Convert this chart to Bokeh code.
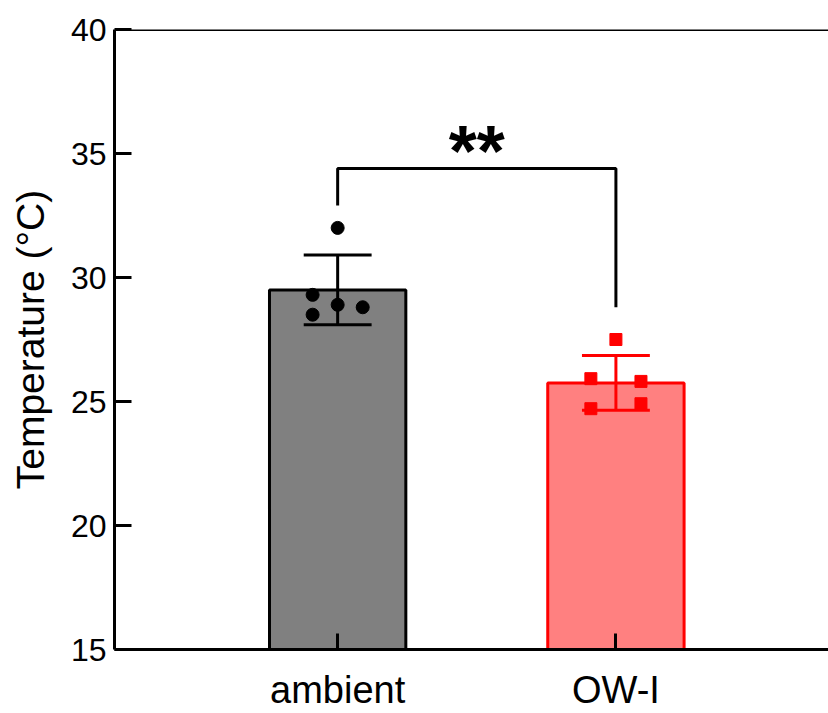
from bokeh.plotting import figure
from bokeh.models import Range1d, FixedTicker, Span
from bokeh.core.properties import value
from bokeh.embed import file_html
from bokeh.resources import INLINE

# ---- data ----
groups = ["ambient", "OW-I"]
group_x = [1, 2]
means = [29.5, 25.75]
sds = [1.41, 1.1]
bar_fill = ["#808080", "#ff8080"]
bar_line = ["#000000", "#ff0000"]

ambient_vals = [32.0, 29.3, 28.9, 28.8, 28.5]
ambient_dx = [0.0, -0.09, 0.0, 0.09, -0.09]
owi_vals = [27.5, 25.92, 25.81, 24.71, 24.91]
owi_dx = [0.0, -0.09, 0.09, -0.09, 0.09]

y_ticks = [15, 20, 25, 30, 35, 40]
bracket_y = 34.4
bracket_ends = [32.9, 28.8]
sig_label = "**"
sig_y = 35.1

FONT = "Liberation Sans"
CAP = 0.122

p = figure(width=828, height=713, output_backend="svg", toolbar_location=None,
           x_range=Range1d(0.198, 2.764), y_range=Range1d(15, 40),
           min_border_left=114, min_border_right=0, min_border_top=29, min_border_bottom=64)
p.background_fill_color = "white"
p.border_fill_color = "white"
p.outline_line_color = None
p.grid.grid_line_color = None

# bars
p.vbar(x=group_x, top=means, bottom=15, width=0.49, fill_color=bar_fill, line_color=bar_line,
       line_width=3)

# error bars (drawn over the bars, under the points)
upper = [m + s for m, s in zip(means, sds)]
lower = [m - s for m, s in zip(means, sds)]
p.segment(x0=group_x, y0=lower, x1=group_x, y1=upper, line_color=bar_line, line_width=3)
p.segment(x0=[x - CAP for x in group_x], y0=upper, x1=[x + CAP for x in group_x], y1=upper,
          line_color=bar_line, line_width=3)
p.segment(x0=[x - CAP for x in group_x], y0=lower, x1=[x + CAP for x in group_x], y1=lower,
          line_color=bar_line, line_width=3)

# points
p.scatter([group_x[0] + d for d in ambient_dx], ambient_vals, marker="circle", size=13,
          fill_color="black", line_color="black")
p.scatter([group_x[1] + d for d in owi_dx], owi_vals, marker="square", size=12,
          fill_color="#ff0000", line_color="#ff0000")

# significance bracket
p.line([group_x[0], group_x[0], group_x[1], group_x[1]],
       [bracket_ends[0], bracket_y, bracket_y, bracket_ends[1]],
       line_color="black", line_width=3)
p.text([sum(group_x) / 2], [sig_y], text=[sig_label], text_font=value(FONT),
       text_font_style="bold", text_font_size="72px", text_align="center",
       text_baseline="middle", text_color="black")

# top border line
p.add_layout(Span(location=40, dimension="width", line_color="black", line_width=3))

# axes
yax = p.yaxis[0]
yax.ticker = FixedTicker(ticks=y_ticks)
yax.axis_label = "Temperature (°C)"
yax.axis_label_text_font = FONT
yax.axis_label_text_font_style = "normal"
yax.axis_label_text_font_size = "39px"
yax.axis_label_text_color = "black"
yax.axis_label_standoff = 16
yax.major_label_text_font = FONT
yax.major_label_text_font_size = "32px"
yax.major_label_text_color = "black"
yax.major_label_standoff = 8
yax.major_tick_in = 17
yax.major_tick_out = 0
yax.minor_tick_line_color = None
yax.axis_line_width = 3
yax.major_tick_line_width = 3

xax = p.xaxis[0]
xax.ticker = FixedTicker(ticks=group_x)
xax.major_label_overrides = {gx: g for gx, g in zip(group_x, groups)}
xax.major_label_text_font = FONT
xax.major_label_text_font_size = "38px"
xax.major_label_text_color = "black"
xax.major_label_standoff = 19
xax.major_tick_in = 16
xax.major_tick_out = 0
xax.minor_tick_line_color = None
xax.axis_line_width = 3
xax.major_tick_line_width = 3

open("out.html", "w").write(file_html(p, INLINE))
